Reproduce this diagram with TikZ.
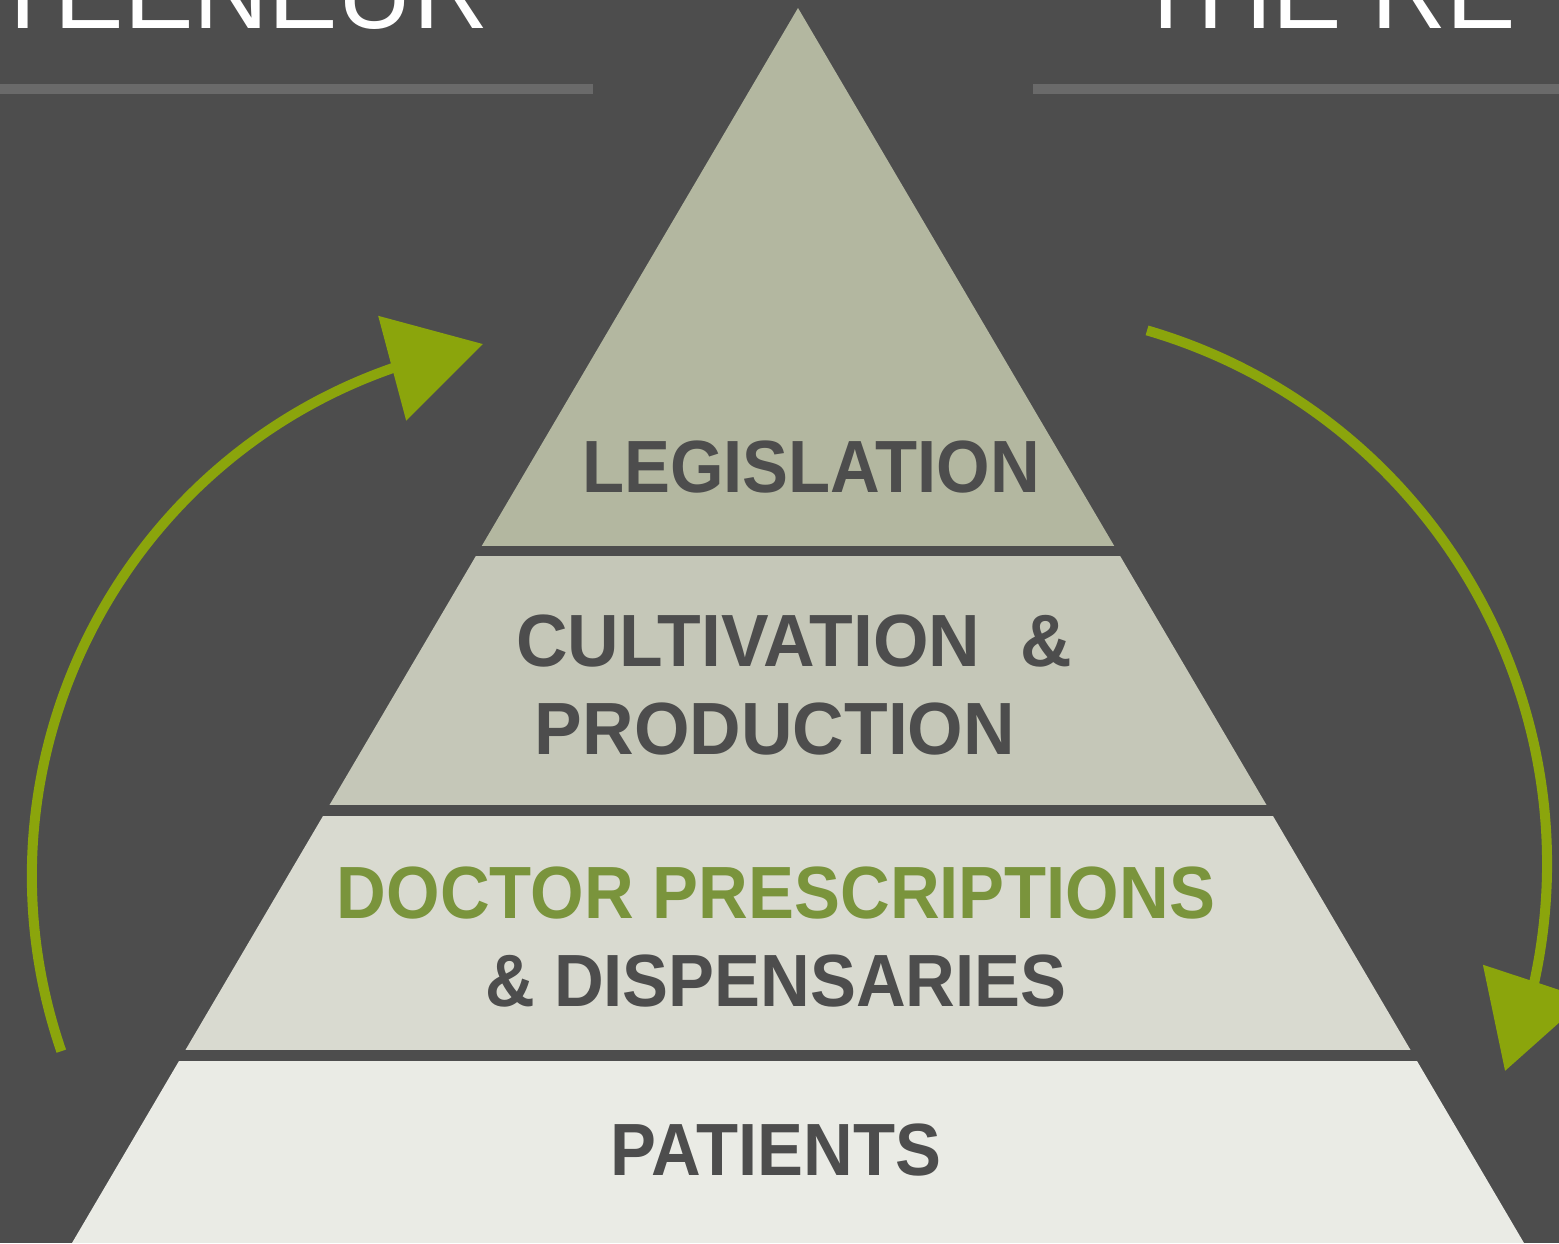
\documentclass[tikz,border=0pt]{standalone}
\usepackage{fontspec}
\setmainfont{Liberation Sans}
\newfontfamily\labfont[FakeStretch=0.93]{Liberation Sans Bold}
\newfontfamily\labfontw[FakeStretch=0.965]{Liberation Sans Bold}
\newfontfamily\headfont{Liberation Sans}
\usetikzlibrary{arrows.meta}
\definecolor{bg}{HTML}{4D4D4D}
\definecolor{rulegray}{HTML}{6A6A6A}
\definecolor{bandA}{HTML}{B3B7A0}
\definecolor{bandB}{HTML}{C5C7B8}
\definecolor{bandC}{HTML}{D9DAD0}
\definecolor{bandD}{HTML}{EAEBE5}
\definecolor{txt}{HTML}{4D4D4D}
\definecolor{greentxt}{HTML}{7A943C}
\definecolor{arrowgreen}{HTML}{8BA50C}
\begin{document}
\begin{tikzpicture}[x=1pt,y=-1pt,
  tier/.style={inner sep=0pt,anchor=base,font=\labfont\fontsize{74}{80}\selectfont,text=txt},
  tierw/.style={tier,font=\labfontw\fontsize{74}{80}\selectfont},
  headtxt/.style={inner sep=0pt,anchor=base west,font=\headfont\fontsize{104}{110}\selectfont,text=white},
  cyc/.style={draw=arrowgreen,line width=10pt,-{Triangle[length=94pt,width=106pt]}}
]
\useasboundingbox (0,0) rectangle (1559,1243);
\fill[bg] (0,0) rectangle (1559,1243);
% heading rules and cut-off headings
\fill[rulegray] (0,83.5) rectangle (593,93.5);
\fill[rulegray] (1033,83.5) rectangle (1559,93.5);
\node[headtxt] (headL) at (-9,28) {TEENEUR};
\node[headtxt] (headR) at (1134,28) {THE RE};
% pyramid
\coordinate (apex) at (798,8);
\coordinate (bl) at (72,1243);
\coordinate (br) at (1524,1243);
\begin{scope}
  \clip (apex) -- (bl) -- (br) -- cycle;
  \fill[bandA] (0,0) rectangle (1559,545.5);
  \fill[bandB] (0,556) rectangle (1559,804.5);
  \fill[bandC] (0,815.5) rectangle (1559,1049.5);
  \fill[bandD] (0,1060.5) rectangle (1559,1243);
\end{scope}
% tier labels
\node[tier] (leg) at (811,492) {LEGISLATION};
\node[tierw] (cult) at (794,666) {CULTIVATION\ \ \&};
\node[tierw] (prod) at (775,754) {PRODUCTION};
\node[tier,text=greentxt] (doc) at (776,918) {DOCTOR PRESCRIPTIONS};
\node[tier] (disp) at (776,1006) {\&~DISPENSARIES};
\node[tier] (pat) at (776,1175) {PATIENTS};
% cycle arrows
\coordinate (lc) at (570,876);
\coordinate (ltip) at (483,344);
\coordinate (rc) at (991,864);
\coordinate (rtip) at (1505,1071);
\draw[cyc] ([shift={(161:538)}]lc) arc[start angle=161,end angle=250.7,radius=538] -- (ltip);
\draw[cyc] ([shift={(-73.7:556)}]rc) arc[start angle=-73.7,end angle=12.3,radius=556] -- (rtip);
\end{tikzpicture}
\end{document}
